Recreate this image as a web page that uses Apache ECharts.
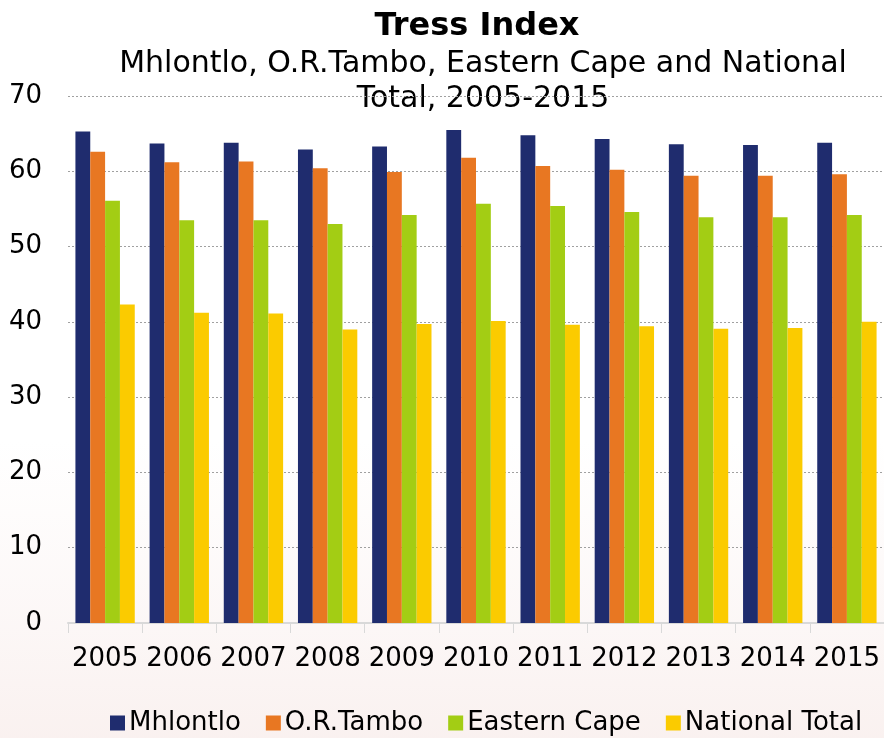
<!DOCTYPE html>
<html>
<head>
<meta charset="utf-8">
<script src="https://cdn.jsdelivr.net/npm/echarts@6/dist/echarts.min.js"></script>
<style>
  html, body { margin: 0; padding: 0; background: #ffffff; }
  #chart { width: 884px; height: 738px; }
</style>
</head>
<body>
<div id="chart"></div>
<script>
// Tress index by year for the municipality, district, province and country
const years = ['2005', '2006', '2007', '2008', '2009', '2010', '2011', '2012', '2013', '2014', '2015'];
const mhlontlo     = [65.3, 63.7, 63.8, 62.9, 63.3, 65.5, 64.8, 64.3, 63.6, 63.5, 63.8];
const orTambo      = [62.6, 61.2, 61.3, 60.4, 59.9, 61.8, 60.7, 60.2, 59.4, 59.4, 59.6];
const easternCape  = [56.1, 53.5, 53.5, 53.0, 54.2, 55.7, 55.4, 54.6, 53.9, 53.9, 54.2];
const nationalTotal = [42.3, 41.2, 41.1, 39.0, 39.7, 40.1, 39.6, 39.4, 39.1, 39.2, 40.0];
const yTicks = [0, 10, 20, 30, 40, 50, 60, 70];

const seriesNames = ['Mhlontlo', 'O.R.Tambo', 'Eastern Cape', 'National Total'];
const seriesData = [mhlontlo, orTambo, easternCape, nationalTotal];
const colors = ['#1f2c6e', '#e87722', '#a3cd14', '#fbcb00'];

const FONT = 'DejaVu Sans, Verdana, sans-serif';

const chart = echarts.init(document.getElementById('chart'), null, { renderer: 'canvas' });

chart.setOption({
  backgroundColor: '#ffffff',
  color: colors,
  animation: false,
  graphic: [
    {
      // soft tint behind the axis labels and legend
      type: 'rect', silent: true, z: -10,
      shape: { x: 0, y: 440, width: 884, height: 298 },
      style: {
        fill: new echarts.graphic.LinearGradient(0, 0, 0, 1, [
          { offset: 0, color: 'rgba(240,215,212,0)' },
          { offset: 1, color: 'rgba(236,205,200,0.28)' }
        ])
      }
    },
    {
      type: 'text', silent: true,
      x: 477, y: 11,
      style: {
        text: 'Tress Index',
        font: 'bold 32px ' + FONT, fill: '#000000',
        textAlign: 'center', textVerticalAlign: 'top'
      }
    },
    {
      type: 'text', silent: true,
      x: 483, y: 47,
      style: {
        text: 'Mhlontlo, O.R.Tambo, Eastern Cape and National\nTotal, 2005-2015',
        font: '30px ' + FONT, fill: '#000000', lineHeight: 35,
        textAlign: 'center', textVerticalAlign: 'top'
      }
    }
  ],
  legend: {
    data: seriesNames,
    left: 105,
    top: 705,
    icon: 'rect',
    itemWidth: 15,
    itemHeight: 15,
    itemGap: 25,
    textStyle: { fontFamily: FONT, fontSize: 26, color: '#000000', padding: [0, 0, 0, -1] }
  },
  grid: { left: 68, right: -7, top: 96, bottom: 115, containLabel: false },
  xAxis: {
    type: 'category',
    data: years,
    axisLine: { show: true, lineStyle: { color: '#d9d9d9', width: 2 } },
    axisTick: { show: true, length: 10, lineStyle: { color: '#d9d9d9', width: 1 } },
    axisLabel: { fontFamily: FONT, fontSize: 26, color: '#000000', margin: 23, interval: 0 },
    splitLine: { show: false }
  },
  yAxis: {
    type: 'value',
    min: yTicks[0],
    max: yTicks[yTicks.length - 1],
    interval: 10,
    axisLine: { show: false },
    axisTick: { show: false },
    axisLabel: { fontFamily: FONT, fontSize: 26, color: '#000000', margin: 26 },
    splitLine: { show: true, lineStyle: { color: '#a0a0a0', type: [2, 2], width: 1 } }
  },
  series: seriesNames.map((name, i) => ({
    name: name,
    type: 'bar',
    data: seriesData[i],
    barGap: '0%',
    barCategoryGap: '20%',
    itemStyle: { color: colors[i] }
  }))
});
</script>
</body>
</html>
